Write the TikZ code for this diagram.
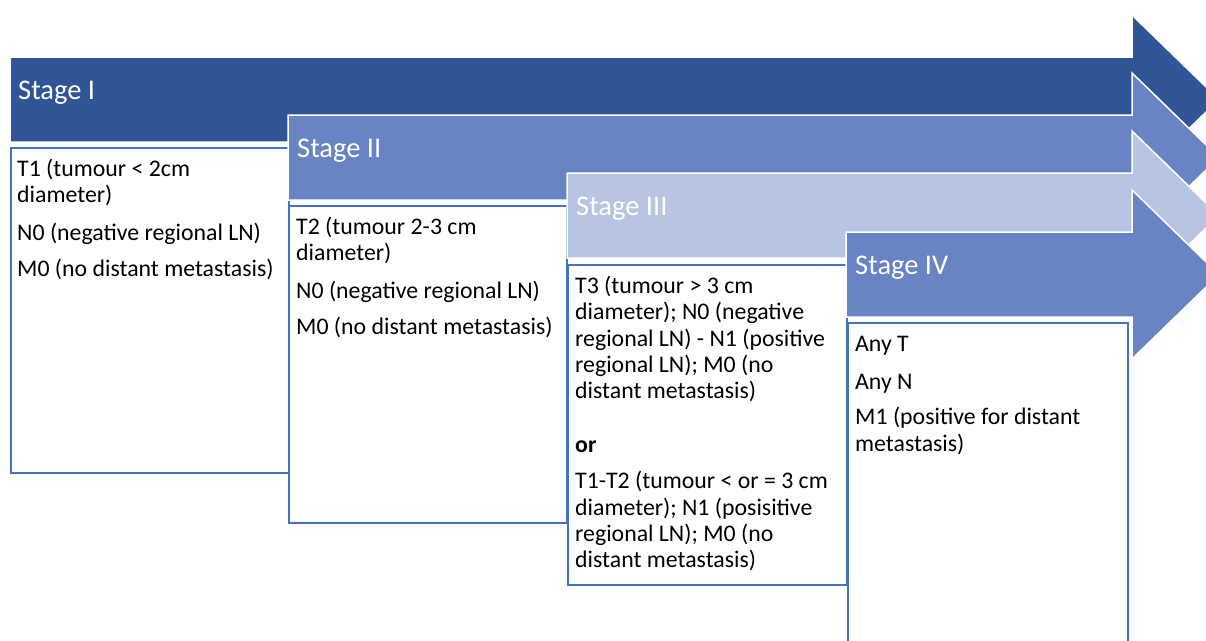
\documentclass[tikz,border=0pt]{standalone}
\usepackage{fontspec}
\setmainfont{Carlito}
\begin{document}
\definecolor{darkband}{HTML}{2F5597}
\definecolor{midband}{HTML}{6884C5}
\definecolor{lightband}{HTML}{B7C4E2}
\definecolor{boxline}{HTML}{4472C4}
\begin{tikzpicture}[x=1pt,y=-1pt,
  band/.style={draw=white, line width=1.5pt, line join=miter},
  stagelabel/.style={anchor=base west, inner sep=0pt, text=white,
    font=\fontsize{28.5}{32}\selectfont},
  infobox/.style={draw=boxline, line width=2pt, fill=white, anchor=north west,
    inner sep=0pt},
  infotext/.style={anchor=north west, inner sep=0pt, align=left, text=black,
    font=\fontsize{23.8}{26.2}\selectfont},
]
\useasboundingbox (0,0) rectangle (1206,640);

% one chevron arrow: #1 = left edge, #2 = top of the body, #3 = colour
\newcommand{\stagearrow}[3]{%
  \fill[#3, band]
    (#1,#2) -- (1132,#2) -- (1132,#2-42) -- (1219,#2+42.5)
    -- (1132,#2+127) -- (1132,#2+85) -- (#1,#2+85) -- cycle;}

% Stage I
\stagearrow{10}{57}{darkband}
\node[stagelabel] (s1) at (18,99) {Stage I};
\node[infobox, minimum width=278pt, minimum height=325pt] (b1) at (10,147) {};
\node[infotext] (t1) at (17,159) {T1 (tumour < 2cm\\diameter)\\[11pt]
  N0 (negative regional LN)\\[10pt]M0 (no distant metastasis)};

% Stage II
\stagearrow{288}{115}{midband}
\node[stagelabel] (s2) at (297,157) {Stage II};
\node[infobox, minimum width=278pt, minimum height=317pt] (b2) at (288,205) {};
\node[infotext] (t2) at (296,217) {T2 (tumour 2-3 cm\\diameter)\\[11pt]
  N0 (negative regional LN)\\[10pt]M0 (no distant metastasis)};

% Stage III
\stagearrow{567}{173}{lightband}
\node[stagelabel] (s3) at (576,215) {Stage III};
\node[infobox, minimum width=279pt, minimum height=320pt] (b3) at (567,264) {};
\node[infotext] (t3) at (575,276) {T3 (tumour > 3 cm\\diameter); N0 (negative\\
  regional LN) - N1 (positive\\regional LN); M0 (no\\distant metastasis)\\[28pt]
  \textbf{or}\\[10pt]
  T1-T2 (tumour < or = 3 cm\\diameter); N1 (posisitive\\regional LN); M0 (no\\
  distant metastasis)};

% Stage IV
\stagearrow{846}{232}{midband}
\node[stagelabel] (s4) at (855,274) {Stage IV};
\node[infobox, minimum width=280pt, minimum height=330pt] (b4) at (847,322) {};
\node[infotext] (t4) at (855,336) {Any T\\[12pt]Any N\\[9pt]
  M1 (positive for distant\\metastasis)};
\end{tikzpicture}
\end{document}
